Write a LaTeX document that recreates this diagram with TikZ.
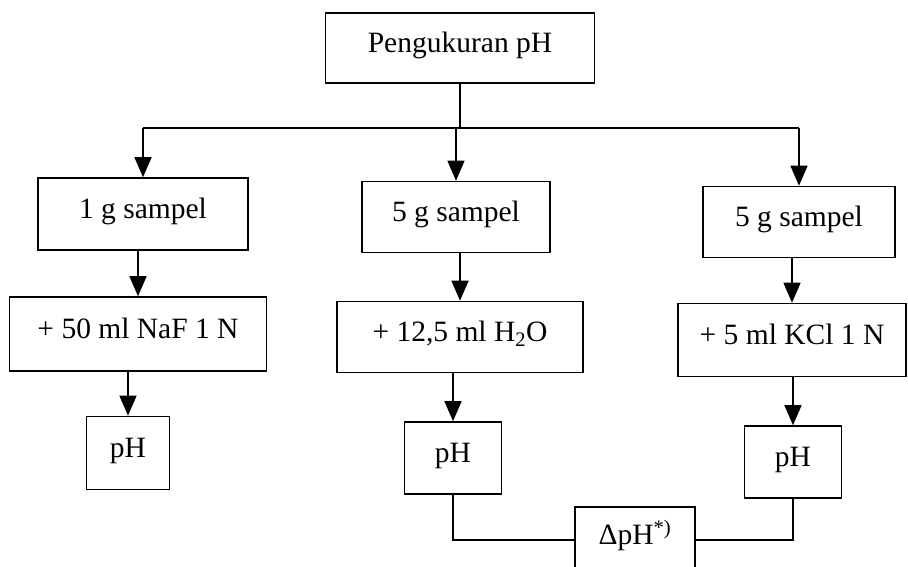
\documentclass[tikz,border=0pt]{standalone}
\usepackage{fontspec}
\setmainfont{Liberation Serif}
\usetikzlibrary{arrows.meta}

\tikzset{
  box/.style={draw,line width=1.6pt,inner sep=0pt,text height=20pt,text depth=12pt,
    font=\fontsize{29.5}{31}\selectfont},
  arr/.style={line width=1.5pt,-{Triangle[length=20pt,width=17pt]}},
  link/.style={line width=1.5pt}
}
\providecommand{\Stepbox}[5]{
\node[box,minimum width=#3pt,minimum height=#4pt] (#1) at (#2) {#5};
}
\providecommand{\Down}[2]{
\draw[arr] (#1.south -| #2) -- (#2.north);
}

\begin{document}
\begin{tikzpicture}[x=1pt,y=-1pt]
\clip (0,0) rectangle (908,566);
\fill[white] (0,0) rectangle (908,566);
\Stepbox{top}{460,48}{269}{70}{Pengukuran pH}
\Stepbox{s1}{143,214}{210}{72}{1 g sampel}
\Stepbox{s2}{456,217}{188}{71}{5 g sampel}
\Stepbox{s3}{799,222}{192}{71}{5 g sampel}
\Stepbox{a1}{138,334}{257}{74}{+ 50 ml NaF 1 N}
\Stepbox{a2}{460,337}{246}{71}{+ 12,5 ml H\textsubscript{2}O}
\Stepbox{a3}{792,340}{228}{73}{+ 5 ml KCl 1 N}
\Stepbox{p1}{128,453}{83}{73}{pH}
\Stepbox{p2}{453,458}{97}{72}{pH}
\Stepbox{p3}{793,462}{97}{72}{pH}
\Stepbox{d}{635,540}{120}{66}{ΔpH\textsuperscript{*)}}
% split
\coordinate (split) at (460,128);
\draw[link] (top.south) -- (split);
\draw[link] (split -| s1) -- (split -| s3);
\Down{split}{s1}\Down{split}{s2}\Down{split}{s3}
\Down{s1}{a1}\Down{s2}{a2}\Down{s3}{a3}
\Down{a1}{p1}\Down{a2}{p2}\Down{a3}{p3}
% selisih
\draw[link] (p2.south) |- (d.west);
\draw[link] (p3.south) |- (d.east);
\end{tikzpicture}
\end{document}
